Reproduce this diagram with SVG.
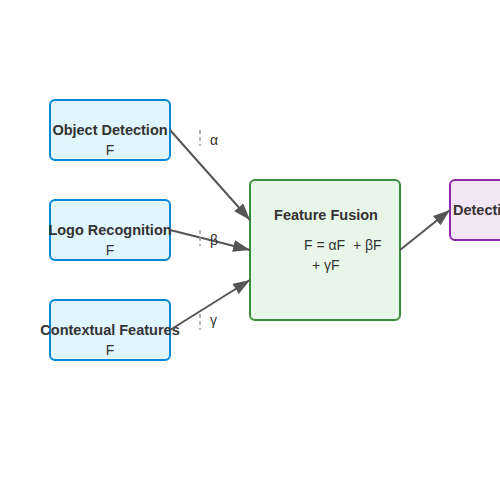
<svg xmlns="http://www.w3.org/2000/svg" width="500" height="500" viewBox="0 0 500 500">
<defs>
<marker id="arr" viewBox="0 0 10 7" refX="10" refY="3.5" markerWidth="8.5" markerHeight="6" orient="auto" markerUnits="strokeWidth">
<path d="M0,0 L10,3.5 L0,7 z" fill="#555"/>
</marker>
<style>
.src rect{fill:#e1f5fe;stroke:#0288d1;stroke-width:2}
text{font-family:"Liberation Sans",Arial,sans-serif;font-size:14px;fill:#333}
.b{font-weight:bold;font-size:14.5px}
.m{text-anchor:middle}
.pre{white-space:pre}
.edge{stroke:#555;stroke-width:2;fill:none;marker-end:url(#arr)}
.dash{stroke:#999;stroke-width:1.5;stroke-dasharray:4,3}
</style>
</defs>
<rect width="500" height="500" fill="#fff"/>
<g id="object-detection" class="src">
<rect x="50" y="100" width="120" height="60" rx="5"/>
<text class="b m" x="110" y="135">Object Detection</text>
<text class="m" x="110" y="155">F</text>
</g>
<g id="logo-recognition" class="src">
<rect x="50" y="200" width="120" height="60" rx="5"/>
<text class="b m" x="110" y="235">Logo Recognition</text>
<text class="m" x="110" y="255">F</text>
</g>
<g id="contextual-features" class="src">
<rect x="50" y="300" width="120" height="60" rx="5"/>
<text class="b m" x="110" y="335">Contextual Features</text>
<text class="m" x="110" y="355">F</text>
</g>
<g id="feature-fusion">
<rect x="250" y="180" width="150" height="140" rx="5" fill="#e8f5e9" stroke="#388e3c" stroke-width="2"/>
<text class="b m" x="326" y="220">Feature Fusion</text>
<text class="pre" x="304" y="250" xml:space="preserve">F = αF  + βF</text>
<text x="312" y="270">+ γF</text>
</g>
<g id="detection">
<rect x="450" y="180" width="120" height="60" rx="5" fill="#f3e5f5" stroke="#8e24aa" stroke-width="2"/>
<text class="b" x="453" y="215">Detection</text>
</g>
<g id="connectors">
<line class="edge" x1="170" y1="130" x2="250" y2="220"/>
<line class="edge" x1="170" y1="230" x2="250" y2="250"/>
<line class="edge" x1="170" y1="330" x2="250" y2="280"/>
<line class="edge" x1="400" y1="250" x2="450" y2="210"/>
<line class="dash" x1="200" y1="130" x2="200" y2="146"/>
<line class="dash" x1="200" y1="230" x2="200" y2="246"/>
<line class="dash" x1="200" y1="314" x2="200" y2="330"/>
<text x="210" y="145">α</text>
<text x="210" y="245">β</text>
<text x="210" y="325">γ</text>
</g>
</svg>
